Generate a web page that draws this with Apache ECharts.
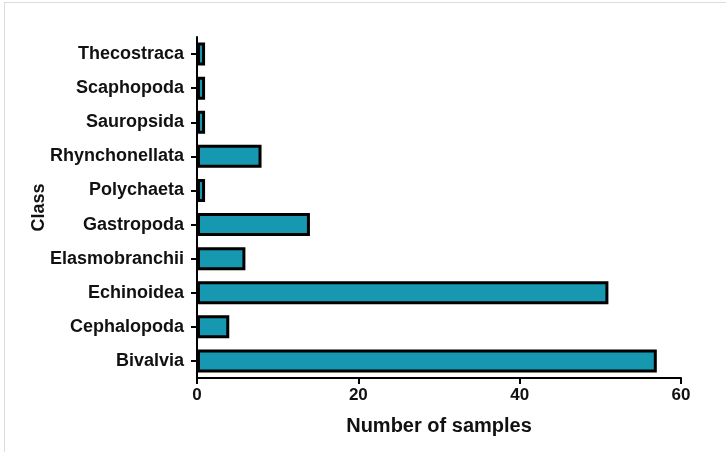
<!DOCTYPE html>
<html>
<head>
<meta charset="utf-8">
<script src="https://cdn.jsdelivr.net/npm/echarts@6/dist/echarts.min.js"></script>
<style>
html,body{margin:0;padding:0;background:#fff;}
#wrap{position:absolute;left:0;top:0;width:726px;height:452px;}
#edge{position:absolute;left:4px;top:2px;width:722px;height:450px;border-left:1px solid #dcdcdc;border-top:1px solid #dcdcdc;box-sizing:border-box;}
#chart{position:absolute;left:0;top:0;width:726px;height:452px;}
</style>
</head>
<body>
<div id="wrap"><div id="edge"></div><div id="chart"></div></div>
<script>
const categories = ["Bivalvia","Cephalopoda","Echinoidea","Elasmobranchii","Gastropoda","Polychaeta","Rhynchonellata","Sauropsida","Scaphopoda","Thecostraca"];
const samples = [57,4,51,6,14,1,8,1,1,1];
const xTicks = [0,20,40,60];

const chart = echarts.init(document.getElementById('chart'), null, {renderer:'canvas'});
const font = '"Liberation Sans", Arial, sans-serif';
chart.setOption({
  animation:false,
  backgroundColor:'transparent',
  grid:{left:197,right:45,top:37,bottom:74,containLabel:false},
  xAxis:{
    type:'value',min:xTicks[0],max:xTicks[xTicks.length-1],interval:20,
    name:'Number of samples',nameLocation:'middle',nameGap:38,nameMoveOverlap:false,
    nameTextStyle:{fontFamily:font,fontWeight:'bold',fontSize:20,color:'#111'},
    axisLine:{show:true,lineStyle:{color:'#000',width:2}},
    axisTick:{show:true,length:6,lineStyle:{color:'#000',width:2}},
    axisLabel:{fontFamily:font,fontWeight:'bold',fontSize:17,color:'#111',margin:9},
    splitLine:{show:false}
  },
  yAxis:{
    type:'category',data:categories,
    name:'Class',nameLocation:'middle',nameGap:149,nameRotate:90,nameMoveOverlap:false,
    nameTextStyle:{fontFamily:font,fontWeight:'bold',fontSize:18,color:'#111'},
    axisLine:{show:true,lineStyle:{color:'#000',width:2}},
    axisTick:{show:true,alignWithLabel:true,length:6,lineStyle:{color:'#000',width:2}},
    axisLabel:{fontFamily:font,fontWeight:'bold',fontSize:18,color:'#111',margin:13}
  },
  series:[{
    type:'bar',data:samples,barWidth:23,
    itemStyle:{color:'#1598b0',borderColor:'#000',borderWidth:3}
  }]
});
</script>
</body>
</html>
